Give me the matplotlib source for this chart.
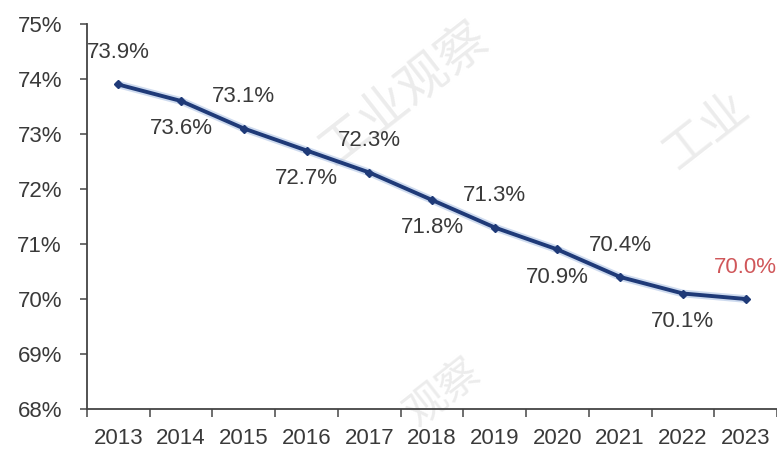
import matplotlib.pyplot as plt
from matplotlib import rcParams
from matplotlib.ticker import FuncFormatter

rcParams['font.family'] = ['Liberation Sans', 'Noto Sans CJK SC', 'DejaVu Sans']

years = ['2013', '2014', '2015', '2016', '2017', '2018', '2019', '2020', '2021', '2022', '2023']
rate = [73.9, 73.6, 73.1, 72.7, 72.3, 71.8, 71.3, 70.9, 70.4, 70.1, 70.0]
# 标签位置：1 在上方，-1 在下方
label_side = [1, -1, 1, -1, 1, -1, 1, -1, 1, -1, 1]

text_color = '#3a3a3a'
line_color = '#1f3a78'

fig = plt.figure(figsize=(7.77, 4.51), dpi=100)

# 水印放在底层
bg = fig.add_axes([0, 0, 1, 1], zorder=0)
bg.axis('off')
wm = dict(color='#ececec', rotation=38, ha='center', va='center',
          family=['Noto Sans CJK SC'])
bg.text(0.52, 0.79, '工业观察', fontsize=36, **wm)
bg.text(0.91, 0.71, '工业', fontsize=34, **wm)
bg.text(0.57, 0.13, '观察', fontsize=30, **wm)

ax = fig.add_axes([87 / 777, 42 / 451, 690 / 777, 385 / 451], zorder=1)
ax.patch.set_alpha(0)

x = list(range(len(years)))
ax.plot(x, rate, color='#9fb8e0', linewidth=5.5, alpha=0.5, solid_capstyle='round', zorder=2)
ax.plot(x, rate, color=line_color, linewidth=2.8, marker='D', markersize=4.5,
        markerfacecolor=line_color, markeredgecolor=line_color, zorder=3)

for i, v in enumerate(rate):
    c = '#d0575a' if i == len(rate) - 1 else text_color
    dy = 23 if label_side[i] > 0 else -20
    ax.annotate('%.1f%%' % v, (i, v), xytext=(0, dy), textcoords='offset points',
                ha='center', va='center', fontsize=16, color=c)

ax.set_xlim(-0.5, len(years) - 0.5)
ax.set_ylim(68, 75)
ax.set_yticks(range(68, 76))
ax.yaxis.set_major_formatter(FuncFormatter(lambda v, p: '%d%%' % v))
ax.set_xticks([i - 0.5 for i in range(len(years) + 1)])
ax.set_xticklabels([])
ax.set_xticks(x, minor=True)
ax.set_xticklabels(years, minor=True)
ax.tick_params(axis='x', which='minor', length=0, pad=14, labelsize=16, labelcolor=text_color)
ax.tick_params(axis='x', which='major', length=6, width=1.2, color='#555555', direction='out')
ax.tick_params(axis='y', length=5, width=1.2, color='#555555', labelsize=16,
               labelcolor=text_color, pad=13)

for s in ['top', 'right']:
    ax.spines[s].set_visible(False)
for s in ['left', 'bottom']:
    ax.spines[s].set_color('#444444')
    ax.spines[s].set_linewidth(1.3)

fig.savefig('out.png', dpi=100)
plt.close()
